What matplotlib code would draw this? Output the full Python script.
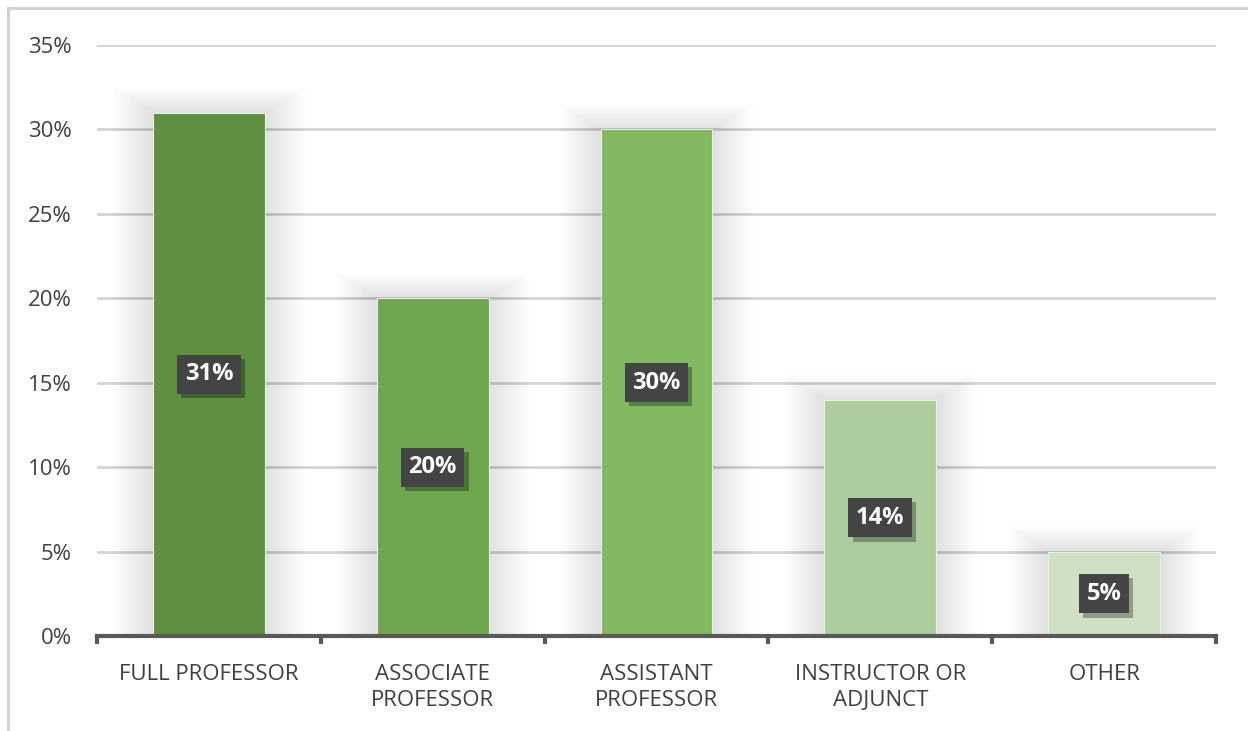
import numpy as np
import matplotlib.pyplot as plt
import matplotlib.patheffects as pe
from matplotlib.lines import Line2D

plt.rcParams['font.family'] = ['Open Sans', 'DejaVu Sans']

categories = ["FULL PROFESSOR", "ASSOCIATE\nPROFESSOR", "ASSISTANT\nPROFESSOR",
              "INSTRUCTOR OR\nADJUNCT", "OTHER"]
values = [31, 20, 30, 14, 5]
bar_colors = ["#5f8f41", "#6ea74d", "#82b960", "#aecd9e", "#cfe0c4"]
yticks = [0, 5, 10, 15, 20, 25, 30, 35]

fig = plt.figure(figsize=(12.48, 7.31), dpi=100)
ax = fig.add_axes([97 / 1248, 1 - 636 / 731, (1216 - 97) / 1248, (636 - 45) / 731])

x = np.arange(len(categories))

# soft glow behind the bars
for k in range(16):
    ax.bar(x, [v + 0.1 * k for v in values], width=0.5 + 0.024 * k,
           color="#000000", alpha=0.009, zorder=2, linewidth=0)

ax.bar(x, values, width=0.5, color=bar_colors, edgecolor="#e8f0e0",
       linewidth=0.8, zorder=3)

for xi, v in zip(x, values):
    t = ax.text(xi, v / 2, f"{v}%", ha="center", va="center", color="white",
                fontsize=17, fontweight="bold", zorder=5,
                bbox=dict(boxstyle="square,pad=0.32", fc="#444444", ec="none"))
    t.get_bbox_patch().set_path_effects(
        [pe.SimplePatchShadow(offset=(3, -3), shadow_rgbFace="#000000", alpha=0.3),
         pe.Normal()])

ax.set_xlim(-0.5, 4.5)
ax.set_ylim(0, 35)
ax.set_yticks(yticks)
ax.set_yticklabels([f"{t}%" for t in yticks])
for yv in yticks[1:]:
    ax.axhline(yv, color="#d4d4d4", linewidth=2, zorder=1)

ax.set_xticks(x)
ax.set_xticklabels(categories)
ax.tick_params(axis="x", length=0, pad=20, labelsize=16, labelcolor="#404040")
ax.tick_params(axis="y", length=0, pad=18, labelsize=16, labelcolor="#404040")
for lab in ax.get_xticklabels():
    lab.set_linespacing(1.3)

for s in ["top", "right", "left"]:
    ax.spines[s].set_visible(False)
ax.spines["bottom"].set_color("#595959")
ax.spines["bottom"].set_linewidth(3)
ax.spines["bottom"].set_zorder(4)

# boundary tick marks under the axis
for b in np.arange(-0.5, 5.0, 1.0):
    ax.plot([b, b], [0, -0.5], color="#595959", linewidth=3,
            clip_on=False, zorder=4, solid_capstyle="butt")

# outer frame (top and left edges visible)
fig.add_artist(Line2D([8 / 1248, 1.0], [1 - 8 / 731, 1 - 8 / 731],
                      color="#cfcfcf", linewidth=2, transform=fig.transFigure))
fig.add_artist(Line2D([8 / 1248, 8 / 1248], [0.0, 1 - 8 / 731],
                      color="#cfcfcf", linewidth=2, transform=fig.transFigure))

fig.savefig("out.png", dpi=100)
